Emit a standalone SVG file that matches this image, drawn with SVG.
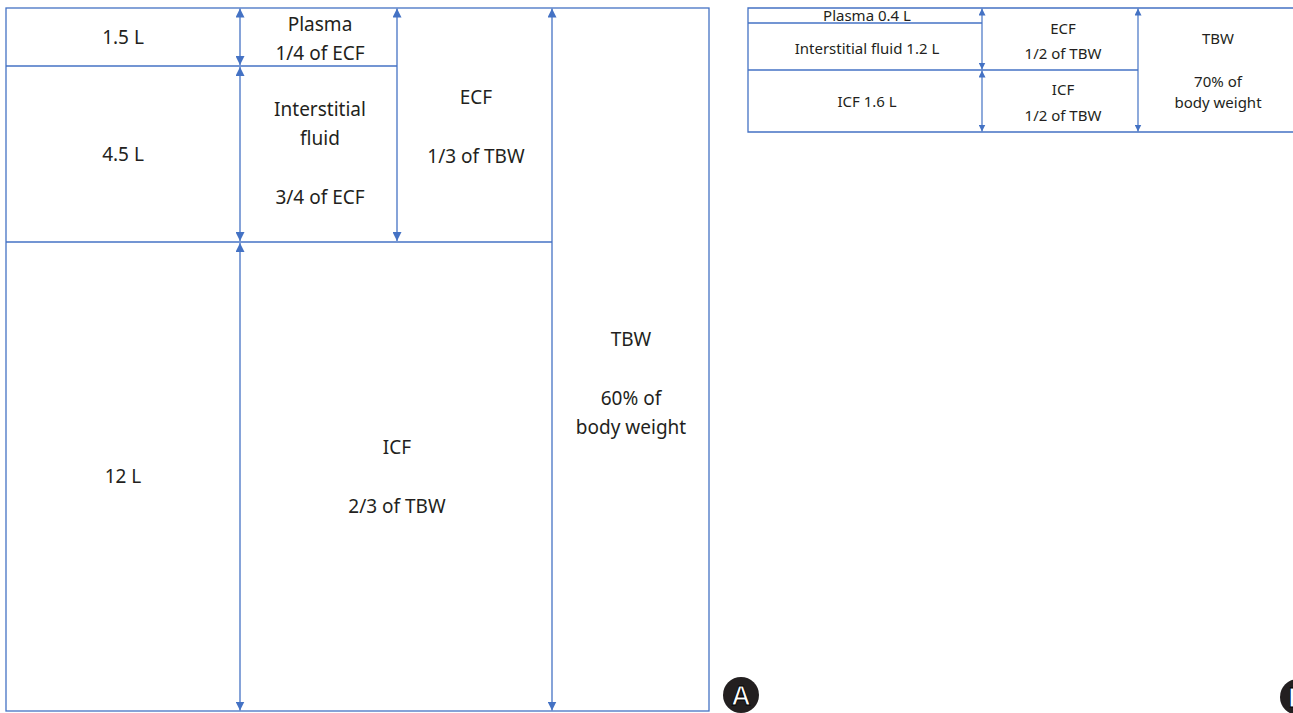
<svg xmlns="http://www.w3.org/2000/svg" width="1293" height="713" viewBox="0 0 1293 713">
<style>
.ln{stroke:#4472C4;stroke-width:1.3;fill:none}
.arA{stroke:#4472C4;stroke-width:1.3;fill:none;marker-start:url(#ahA);marker-end:url(#ahA)}
.arB{stroke:#4472C4;stroke-width:1.2;fill:none;marker-start:url(#ahB);marker-end:url(#ahB)}
.t{font-family:"Noto Sans","Liberation Sans",sans-serif;fill:#231f20;text-anchor:middle;dominant-baseline:central}
.ta{font-size:19px}
.tb{font-size:15px}
.badge{font-family:"Liberation Sans",sans-serif;font-weight:bold;font-size:27px;fill:#fff;stroke:#000;stroke-width:1;text-anchor:middle;dominant-baseline:central}
</style>
<defs>
<marker id="ahA" markerUnits="userSpaceOnUse" markerWidth="9" markerHeight="9" viewBox="0 0 8 8" refX="8" refY="4" orient="auto-start-reverse">
<path d="M0,0 L8,4 L0,8 z" fill="#4472C4"/>
</marker>
<marker id="ahB" markerUnits="userSpaceOnUse" markerWidth="7" markerHeight="7" viewBox="0 0 8 8" refX="8" refY="4" orient="auto-start-reverse">
<path d="M0,0 L8,4 L0,8 z" fill="#4472C4"/>
</marker>
</defs>
<rect width="1293" height="713" fill="#fff"/>

<g id="panelA-frame">
<rect class="ln" x="6" y="8" width="703" height="703"/>
<line class="ln" x1="6" y1="66" x2="397" y2="66"/>
<line class="ln" x1="6" y1="242" x2="552" y2="242"/>
</g>

<g id="connectors">
<line class="arA" x1="240" y1="8.5" x2="240" y2="65"/>
<line class="arA" x1="240" y1="67" x2="240" y2="241"/>
<line class="arA" x1="240" y1="243" x2="240" y2="710.5"/>
<line class="arA" x1="397" y1="8.5" x2="397" y2="241"/>
<line class="arA" x1="552" y1="8.5" x2="552" y2="710.5"/>
<line class="arB" x1="982" y1="8.5" x2="982" y2="69.5"/>
<line class="arB" x1="982" y1="70.5" x2="982" y2="131.5"/>
<line class="arB" x1="1138" y1="8.5" x2="1138" y2="131.5"/>
</g>

<g id="node-1-5L"><text class="t ta" x="123" y="37">1.5 L</text></g>
<g id="node-plasma"><text class="t ta" x="320" y="24">Plasma</text><text class="t ta" x="320" y="53">1/4 of ECF</text></g>
<g id="node-4-5L"><text class="t ta" x="123" y="154">4.5 L</text></g>
<g id="node-interstitial"><text class="t ta" x="320" y="109">Interstitial</text><text class="t ta" x="320" y="138">fluid</text><text class="t ta" x="320" y="197">3/4 of ECF</text></g>
<g id="node-ecf"><text class="t ta" x="476" y="97">ECF</text><text class="t ta" x="476" y="156">1/3 of TBW</text></g>
<g id="node-12L"><text class="t ta" x="123" y="476">12 L</text></g>
<g id="node-icf"><text class="t ta" x="397" y="447">ICF</text><text class="t ta" x="397" y="506">2/3 of TBW</text></g>
<g id="node-tbw"><text class="t ta" x="631" y="339">TBW</text><text class="t ta" x="631" y="398">60% of</text><text class="t ta" x="631" y="427">body weight</text></g>

<g id="panelB-frame">
<polyline class="ln" points="1300,8 748,8 748,132 1300,132"/>
<line class="ln" x1="748" y1="23" x2="982" y2="23"/>
<line class="ln" x1="748" y1="70" x2="1138" y2="70"/>
</g>
<g id="nodeB-plasma"><text class="t tb" x="867" y="15">Plasma 0.4 L</text></g>
<g id="nodeB-interstitial"><text class="t tb" x="867" y="48">Interstitial fluid 1.2 L</text></g>
<g id="nodeB-icf"><text class="t tb" x="867" y="101">ICF 1.6 L</text></g>
<g id="nodeB-ecf"><text class="t tb" x="1063" y="28">ECF</text><text class="t tb" x="1063" y="53">1/2 of TBW</text></g>
<g id="nodeB-icf2"><text class="t tb" x="1063" y="89">ICF</text><text class="t tb" x="1063" y="115">1/2 of TBW</text></g>
<g id="nodeB-tbw"><text class="t tb" x="1218" y="38">TBW</text><text class="t tb" x="1218" y="81">70% of</text><text class="t tb" x="1218" y="102">body weight</text></g>

<g id="badge-A"><circle cx="741" cy="695" r="18" fill="#231f20"/><text class="badge" x="741" y="696">A</text></g>
<g id="badge-B"><circle cx="1298" cy="697" r="18" fill="#231f20"/><text class="badge" x="1298" y="698">B</text></g>
</svg>
